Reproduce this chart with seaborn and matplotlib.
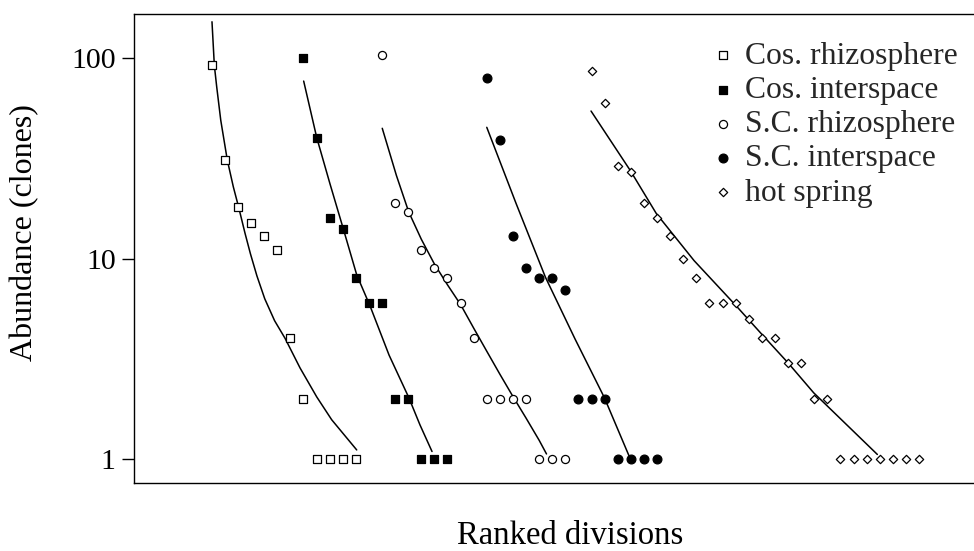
import numpy as np
import pandas as pd
import matplotlib
matplotlib.use("Agg")
import matplotlib.pyplot as plt
import seaborn as sns

# ---------------- data ----------------
series = ["Cos. rhizosphere", "Cos. interspace", "S.C. rhizosphere",
          "S.C. interspace", "hot spring"]
first_rank = [0, 7, 13, 21, 29]          # rank position of the first point of each series

cos_rhiz = [92, 31, 18, 15, 13, 11, 4, 2, 1, 1, 1, 1]
cos_inter = [100, 40, 16, 14, 8, 6, 6, 2, 2, 1, 1, 1]
sc_rhiz = [104, 19, 17, 11, 9, 8, 6, 4, 2, 2, 2, 2, 1, 1, 1]
sc_inter = [80, 39, 13, 9, 8, 8, 7, 2, 2, 2, 1, 1, 1, 1]
hot_spring = [86, 60, 29, 27, 19, 16, 13, 10, 8, 6, 6, 6, 5, 4, 4, 3, 3, 2, 2,
              1, 1, 1, 1, 1, 1, 1]

# fitted curves: (rank position, abundance)
fit_cos_rhiz_x = [0.02, 0.2, 0.38, 0.69, 1.19, 1.65, 2.06, 2.54, 2.95, 3.45, 4.05, 4.8, 5.6, 6.74, 8.02, 9.16, 11.07]
fit_cos_rhiz_y = [152, 92, 72, 49, 31, 22.8, 18.0, 13.4, 10.6, 8.2, 6.3, 4.9, 4.0, 2.85, 2.04, 1.57, 1.11]
fit_cos_inter_x = [7.02, 8.02, 9.03, 10.05, 11.07, 12.09, 13.54, 15.04, 15.90, 16.82]
fit_cos_inter_y = [76.9, 40.1, 23.6, 14.05, 8.3, 5.8, 3.30, 2.03, 1.48, 1.09]
fit_sc_rhiz_x = [13.02, 14.1, 15.04, 16, 17, 18, 19, 20, 21, 22, 23, 24, 25, 25.56]
fit_sc_rhiz_y = [44.7, 26, 17.1, 12.5, 9.4, 7.4, 5.9, 4.5, 3.45, 2.65, 2.05, 1.6, 1.24, 1.06]
fit_sc_inter_x = [21.0, 23.23, 25.48, 27.74, 29.97, 31.88]
fit_sc_inter_y = [45.2, 18.9, 8.07, 3.97, 2.03, 1.03]
fit_hot_x = [28.96, 31.96, 33.94, 36.83, 39.96, 41.96, 44.0, 45.96, 50.82]
fit_hot_y = [54.5, 27.5, 16.8, 9.77, 5.89, 4.22, 3.02, 2.14, 1.054]

ytick_vals = [1, 10, 100]
ytick_labels = ["1", "10", "100"]

values = [cos_rhiz, cos_inter, sc_rhiz, sc_inter, hot_spring]
fits = [(fit_cos_rhiz_x, fit_cos_rhiz_y), (fit_cos_inter_x, fit_cos_inter_y),
        (fit_sc_rhiz_x, fit_sc_rhiz_y), (fit_sc_inter_x, fit_sc_inter_y),
        (fit_hot_x, fit_hot_y)]

rows = []
for name, start, vals in zip(series, first_rank, values):
    for i, v in enumerate(vals):
        rows.append({"series": name, "rank": start + i, "abundance": v})
df = pd.DataFrame(rows)

# ---------------- style ----------------
sns.set_theme(style="ticks")
plt.rcParams["font.family"] = ["Liberation Serif", "DejaVu Serif"]
plt.rcParams["axes.linewidth"] = 1.0

styles = {
    "Cos. rhizosphere": dict(marker="s", color="white", s=26),
    "Cos. interspace": dict(marker="s", color="black", s=30),
    "S.C. rhizosphere": dict(marker="o", color="white", s=34),
    "S.C. interspace": dict(marker="o", color="black", s=40),
    "hot spring": dict(marker="D", color="white", s=18),
}

fig = plt.figure(figsize=(9.74, 5.51), dpi=100)
ax = fig.add_axes([0.1373, 0.1240, 0.8627, 0.8506])

for name, (fx, fy) in zip(series, fits):
    sns.lineplot(x=fx, y=fy, ax=ax, color="black", linewidth=1.1,
                 estimator=None, sort=False, legend=False)

for name in series:
    st = styles[name]
    sub = df[df["series"] == name]
    sns.scatterplot(data=sub, x="rank", y="abundance", ax=ax,
                    marker=st["marker"], s=st["s"], color=st["color"],
                    edgecolor="black", linewidth=0.9, label=name, zorder=3)

ax.set_yscale("log")
ax.set_ylim(0.762, 166.2)
ax.set_xlim(-5.955, 58.2)
ax.set_yticks(ytick_vals)
ax.set_yticklabels(ytick_labels)
ax.yaxis.set_minor_locator(matplotlib.ticker.NullLocator())
ax.set_xticks([])
ax.tick_params(axis="y", direction="out", length=9, width=1.0, pad=4,
               labelsize=21.5, colors="black")
for side in ["left", "top", "bottom"]:
    ax.spines[side].set_visible(True)
    ax.spines[side].set_color("black")
ax.spines["right"].set_visible(False)

ax.set_xlabel("Ranked divisions", fontsize=23.6, color="black")
ax.xaxis.set_label_coords(0.519, -0.080)
ax.set_ylabel("Abundance (clones)", fontsize=23, color="black")
ax.yaxis.set_label_coords(-0.112, 0.533)

handles, labels = ax.get_legend_handles_labels()
ax.legend(handles, labels, loc="upper left", bbox_to_anchor=(0.6862, 0.9413),
          frameon=False, fontsize=22.8, handlelength=0.8, handletextpad=0.30,
          labelspacing=0.16, borderpad=0, borderaxespad=0, scatterpoints=1)

fig.savefig("out.png", dpi=100)
